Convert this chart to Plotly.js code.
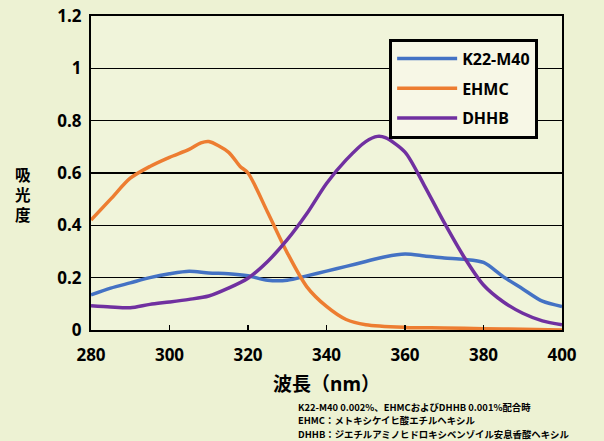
<!DOCTYPE html>
<html><head><meta charset="utf-8">
<script src="https://cdn.plot.ly/plotly-3.0.1.min.js"></script>
<style>html,body{margin:0;padding:0;background:#edf2d3;}#c{width:604px;height:441px;}</style>
</head><body><div id="c"></div>
<script>
const wavelengths = [280,285,290,295,300,305,310,315,320,325,330,335,340,345,350,355,360,365,370,375,380,385,390,395,400];
const k22 = [0.134,0.16,0.18,0.20,0.215,0.225,0.218,0.215,0.207,0.19,0.19,0.207,0.225,0.243,0.262,0.28,0.29,0.283,0.275,0.27,0.258,0.204,0.157,0.11,0.09];
const ehmcX = [280,285,290,295,300,305,308,310,315,318,320,325,330,335,340,345,350,360,370,380,390,400];
const ehmc = [0.42,0.50,0.58,0.625,0.66,0.69,0.715,0.72,0.68,0.625,0.60,0.45,0.295,0.165,0.09,0.04,0.02,0.01,0.008,0.005,0.003,0.0];
const dhhbX = [280,285,290,295,300,305,310,315,320,325,330,335,340,345,350,353,355,360,365,370,375,380,385,390,395,400];
const dhhb = [0.093,0.088,0.085,0.098,0.107,0.117,0.13,0.16,0.198,0.262,0.345,0.445,0.56,0.65,0.72,0.74,0.735,0.68,0.55,0.41,0.28,0.172,0.108,0.064,0.035,0.02];
const seriesNames = ['K22-M40','EHMC','DHHB'];
const xTicks = [280,300,320,340,360,380,400];
const yTicks = [0,0.2,0.4,0.6,0.8,1,1.2];
const yTickText = ['0','0.2','0.4','0.6','0.8','1','1.2'];
const noteLines = ['K22-M40 0.002%、EHMCおよびDHHB 0.001%配合時','EHMC：メトキシケイヒ酸エチルヘキシル','DHHB：ジエチルアミノヒドロキシベンゾイル安息香酸ヘキシル'];

const F = '"Noto Sans", "Noto Sans CJK JP", sans-serif';
const mk = (x,y,name,color,g)=>({x:x,y:y,name:name,type:'scatter',mode:'lines',legendgroup:g,
  line:{color:color,width:3.5,shape:'spline',smoothing:0.8}});
const data = [
  mk(wavelengths,k22,seriesNames[0],'#4472C4','a'),
  mk(ehmcX,ehmc,seriesNames[1],'#ED7D31','b'),
  mk(dhhbX,dhhb,seriesNames[2],'#7030A0','c')
];
const noteY = [-0.245,-0.288,-0.331];
const notes = noteLines.map((t,i)=>({xref:'paper',yref:'paper',x:0.436,y:noteY[i],xanchor:'left',yanchor:'middle',
  align:'left',showarrow:false,text:t,font:{family:'"Noto Sans CJK JP"',size:9.4,weight:'bold'}}));
const layout = {
  width:604,height:441,
  margin:{l:91,r:42,t:16,b:111},
  paper_bgcolor:'#edf2d3',plot_bgcolor:'#f0f4da',
  font:{family:F,color:'#000'},
  showlegend:true,
  legend:{x:0.633,y:0.928,xanchor:'left',yanchor:'top',bgcolor:'#f7f7e6',bordercolor:'#000',borderwidth:3,
    font:{family:F,size:16,color:'#000',weight:'bold'},traceorder:'grouped',tracegroupgap:6,itemwidth:60},
  xaxis:{range:[280,400],tickvals:xTicks,ticks:'inside',ticklen:5,tickcolor:'#000',tickwidth:1.5,
    showline:true,linecolor:'#000',linewidth:2,mirror:true,showgrid:false,zeroline:false,ticklabelstandoff:9,
    tickfont:{family:F,size:17,color:'#000',weight:'bold'},
    title:{text:'波長（nm）',font:{family:F,size:19,weight:'bold'},standoff:12}},
  yaxis:{range:[0,1.2],tickvals:yTicks,ticktext:yTickText,ticks:'',showline:true,linecolor:'#000',linewidth:2,mirror:true,
    showgrid:true,gridcolor:'#000',gridwidth:1.2,zeroline:false,ticklabelstandoff:4,
    tickfont:{family:F,size:17,color:'#000',weight:'bold'}},
  annotations:[
    {xref:'paper',yref:'paper',x:-0.166,y:0.433,xanchor:'left',yanchor:'middle',text:'吸<br>光<br>度',showarrow:false,align:'center',
     font:{family:'"Noto Sans CJK JP"',size:15.5,weight:'bold'}}
  ].concat(notes)
};
Plotly.newPlot('c',data,layout,{displayModeBar:false,staticPlot:true});
</script></body></html>
